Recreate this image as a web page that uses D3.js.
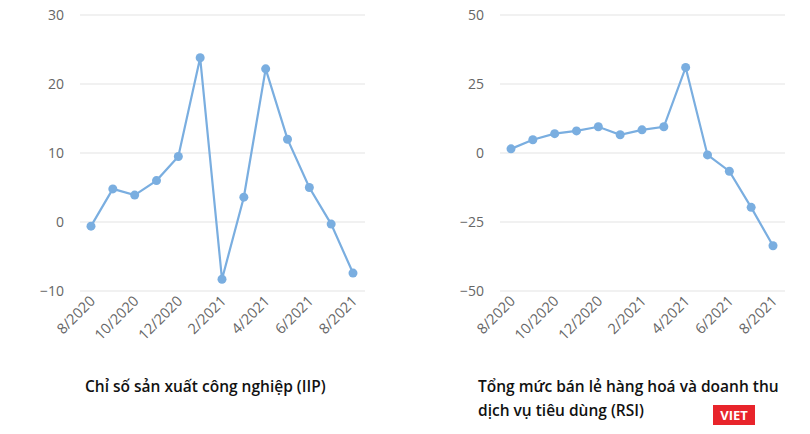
<!DOCTYPE html>
<html><head><meta charset="utf-8">
<script src="https://cdn.jsdelivr.net/npm/d3@7"></script>
<style>body{margin:0;background:#fff;font-family:"Open Sans",sans-serif}</style>
</head><body><svg id="c" width="810" height="434"></svg>
<script>
const months = ["8/2020","9/2020","10/2020","11/2020","12/2020","1/2021","2/2021","3/2021","4/2021","5/2021","6/2021","7/2021","8/2021"];
const tickLabels = ["8/2020","10/2020","12/2020","2/2021","4/2021","6/2021","8/2021"];
const iip = [-0.6,4.8,3.9,6,9.5,23.8,-8.3,3.6,22.2,12,5,-0.3,-7.4];
const rsi = [1.5,4.8,7,8,9.5,6.6,8.4,9.5,31,-0.7,-6.6,-19.7,-33.6];
const iipTicks = [-10,0,10,20,30];
const rsiTicks = [-50,-25,0,25,50];
const titleIIP = ["Chỉ số sản xuất công nghiệp (IIP)"];
const titleRSI = ["Tổng mức bán lẻ hàng hoá và doanh thu","dịch vụ tiêu dùng (RSI)"];

const svg = d3.select("#c");
function panel(x0,x1,vals,ticks,dom,title,tx){
  const y = d3.scaleLinear().domain(dom).range([291,15]);
  const x = d3.scalePoint().domain(months).range([x0+11,x1-12]);
  const g = svg.append("g");
  ticks.forEach(t=>{
    g.append("line").attr("x1",x0).attr("x2",x1).attr("y1",y(t)).attr("y2",y(t)).attr("stroke","#e3e3e3");
    g.append("text").attr("x",x0-16).attr("y",y(t)+5).attr("text-anchor","end").attr("font-size",14).attr("fill","#666").text(t<0?"−"+(-t):t);
  });
  tickLabels.forEach(m=>{
    g.append("text").attr("transform",`translate(${x(m)+5},${302}) rotate(-45)`).attr("text-anchor","end").attr("font-size",14.5).attr("fill","#666").text(m);
  });
  g.append("path").datum(vals).attr("fill","none").attr("stroke","#7aaee0").attr("stroke-width",2.2)
    .attr("d",d3.line().x((d,i)=>x(months[i])).y(d=>y(d)));
  g.selectAll("circle").data(vals).join("circle").attr("cx",(d,i)=>x(months[i])).attr("cy",d=>y(d)).attr("r",4.5).attr("fill","#7aaee0");
  title.forEach((t,i)=>g.append("text").attr("x",tx).attr("y",392+i*24).attr("font-size",15.5).attr("font-weight",600).attr("fill","#111").text(t));
}
panel(80,365,iip,iipTicks,[-10,30],titleIIP,85);
panel(500,785,rsi,rsiTicks,[-50,50],titleRSI,478);
svg.append("rect").attr("x",713).attr("y",405).attr("width",42).attr("height",20).attr("fill","#e8242b");
svg.append("text").attr("x",734).attr("y",420).attr("text-anchor","middle").attr("font-size",13).attr("font-weight",700).attr("fill","#fff").text("VIET");
</script></body></html>
